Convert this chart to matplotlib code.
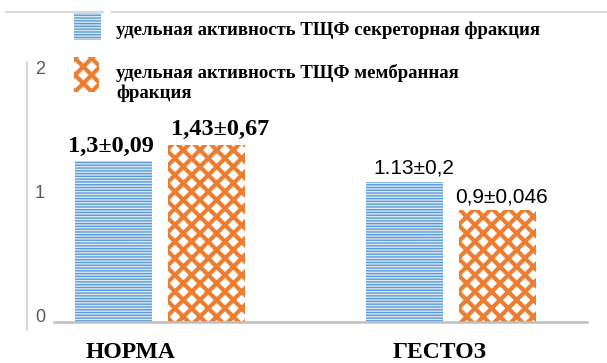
import matplotlib
matplotlib.use('Agg')
import matplotlib.pyplot as plt
import matplotlib.transforms as mtransforms
from matplotlib.lines import Line2D
from matplotlib.patches import Rectangle

# data
categories = ['НОРМА', 'ГЕСТОЗ']
secretory = [1.3, 1.13]
membrane = [1.43, 0.9]
secretory_labels = ['1,3±0,09', '1.13±0,2']
membrane_labels = ['1,43±0,67', '0,9±0,046']
legend_labels = ['удельная активность ТЩФ секреторная фракция',
                 'удельная активность ТЩФ мембранная\nфракция']
y_ticks = [0, 1, 2]

serif = ['Liberation Serif', 'DejaVu Serif']
sans = ['Liberation Sans', 'DejaVu Sans']

BLUE_FACE = '#dae8f6'
BLUE_LINE = '#5b9bd5'
ORANGE = '#ed7d31'

fig = plt.figure(figsize=(6.07, 3.63), dpi=100)
ax = fig.add_axes([0.089, 0.113, 0.878, 0.752])

x = range(len(categories))
width = 0.265
offset = 0.16

# blue bars with thin horizontal stripes
plt.rcParams['hatch.linewidth'] = 1.0
blue = ax.bar([i - offset for i in x], secretory, width, facecolor=BLUE_FACE,
              edgecolor=BLUE_LINE, linewidth=0, hatch='------')

# orange bars: thick crossing lines leave white diamonds
plt.rcParams['hatch.linewidth'] = 3.0
orange = ax.bar([i + offset for i in x], membrane, width, facecolor='white',
                edgecolor=ORANGE, linewidth=0, hatch='xx')

ax.set_xlim(-0.364, 1.467)
ax.set_ylim(0, 2.2)

for s in ['left', 'right', 'top']:
    ax.spines[s].set_visible(False)
ax.spines['bottom'].set_color('#bfbfbf')
ax.spines['bottom'].set_linewidth(1.8)

# y labels sit a little above their values, as in the reference
ax.set_yticks([])
ax.set_xticks([])
ylab_tr = mtransforms.offset_copy(ax.get_yaxis_transform(), fig, x=-9, y=4, units='dots')
for t in y_ticks:
    ax.text(0, t, str(t), transform=ylab_tr, ha='right', va='center',
            family=sans, fontsize=13, color='#595959', clip_on=False)

label_shift = [-0.1, -0.04]
for i, name in enumerate(categories):
    ax.annotate(name, (i + label_shift[i], 0), xytext=(0, -22), textcoords='offset points',
                ha='center', va='center', family=serif, fontweight='bold',
                fontsize=17, color='black', annotation_clip=False)

# value labels
val_style = [dict(family=serif, fontweight='bold', fontsize=17.5),
             dict(family=sans, fontsize=15)]
sec_dx = [-2, 7]
mem_dx = [10, 3]
for i in x:
    ax.annotate(secretory_labels[i], (i - offset, secretory[i]), xytext=(sec_dx[i], 3),
                textcoords='offset points', ha='center', va='bottom', **val_style[i])
    ax.annotate(membrane_labels[i], (i + offset, membrane[i]), xytext=(mem_dx[i], 3),
                textcoords='offset points', ha='center', va='bottom', **val_style[i])

# legend drawn by hand in figure coordinates
W, H = 607, 363


def fx(px):
    return px / W


def fy(py):
    return 1 - py / H


plt.rcParams['hatch.linewidth'] = 1.0
fig.patches.append(Rectangle((fx(74), fy(40)), fx(27), 27 / H, transform=fig.transFigure,
                             facecolor=BLUE_FACE, edgecolor=BLUE_LINE, linewidth=0,
                             hatch='------'))
plt.rcParams['hatch.linewidth'] = 3.0
fig.patches.append(Rectangle((fx(74), fy(92)), fx(25), 35 / H, transform=fig.transFigure,
                             facecolor='white', edgecolor=ORANGE, linewidth=0,
                             hatch='xx'))
fig.text(fx(116), fy(30), legend_labels[0], family=serif, fontweight='bold',
         fontsize=13.5, va='center', ha='left')
fig.text(fx(116), fy(83), legend_labels[1], family=serif, fontweight='bold',
         fontsize=13.5, va='center', ha='left', linespacing=1.25)

# grey frame remnants
fig.add_artist(Line2D([fx(6), fx(103)], [fy(12), fy(12)], color='#d9d9d9', lw=1.5,
                      transform=fig.transFigure))
fig.add_artist(Line2D([fx(112), 1], [fy(12), fy(12)], color='#d9d9d9', lw=1.5,
                      transform=fig.transFigure))
fig.add_artist(Line2D([fx(27), fx(27)], [fy(62), fy(330)], color='#d9d9d9', lw=1.5,
                      transform=fig.transFigure))

fig.savefig('out.png', dpi=100)
